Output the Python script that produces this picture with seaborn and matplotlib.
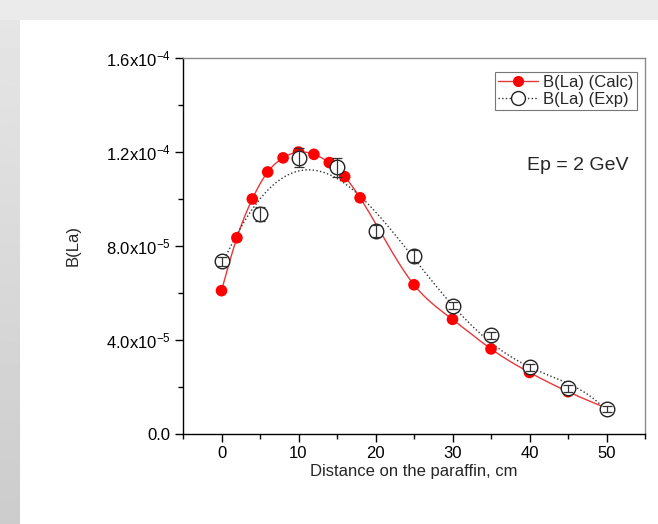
import numpy as np
import pandas as pd
import matplotlib
matplotlib.use("Agg")
import matplotlib.pyplot as plt
import seaborn as sns
from matplotlib.lines import Line2D
from matplotlib.patches import Rectangle
from matplotlib.ticker import MultipleLocator

# ---- data ----
calc_x = [0, 2, 4, 6, 8, 10, 12, 14, 16, 18, 25, 30, 35, 40, 45, 50]
calc_y = [6.1e-5, 8.35e-5, 1.00e-4, 1.115e-4, 1.175e-4, 1.20e-4, 1.19e-4,
          1.155e-4, 1.095e-4, 1.005e-4, 6.35e-5, 4.88e-5, 3.62e-5, 2.62e-5,
          1.80e-5, 1.10e-5]
exp_x = [0, 5, 10, 15, 20, 25, 30, 35, 40, 45, 50]
exp_y = [7.35e-5, 9.35e-5, 1.175e-4, 1.135e-4, 8.65e-5, 7.57e-5, 5.45e-5,
         4.2e-5, 2.83e-5, 1.95e-5, 1.07e-5]
exp_err = [2.0e-6, 3.0e-6, 4.0e-6, 4.0e-6, 2.5e-6, 2.5e-6, 1.5e-6,
           1.5e-6, 1.5e-6, 1.5e-6, 1.2e-6]
y_ticks = [0.0, 4e-5, 8e-5, 1.2e-4, 1.6e-4]
y_tick_labels = ['0.0', '4.0x10$^{-5}$', '8.0x10$^{-5}$',
                 '1.2x10$^{-4}$', '1.6x10$^{-4}$']
x_ticks = [0, 10, 20, 30, 40, 50]
label_calc = 'B(La) (Calc)'
label_exp = 'B(La) (Exp)'

sns.set_style("ticks")
plt.rcParams['font.family'] = ['Liberation Sans', 'DejaVu Sans']
plt.rcParams['mathtext.default'] = 'regular'


def natural_spline(x, y, n=400):
    x = np.asarray(x, float)
    y = np.asarray(y, float)
    k = len(x)
    h = np.diff(x)
    A = np.zeros((k, k))
    b = np.zeros(k)
    A[0, 0] = 1
    A[-1, -1] = 1
    for i in range(1, k - 1):
        A[i, i - 1] = h[i - 1]
        A[i, i] = 2 * (h[i - 1] + h[i])
        A[i, i + 1] = h[i]
        b[i] = 6 * ((y[i + 1] - y[i]) / h[i] - (y[i] - y[i - 1]) / h[i - 1])
    M = np.linalg.solve(A, b)
    xs = np.linspace(x[0], x[-1], n)
    idx = np.clip(np.searchsorted(x, xs) - 1, 0, k - 2)
    x0, x1 = x[idx], x[idx + 1]
    hh = x1 - x0
    t0 = x1 - xs
    t1 = xs - x0
    ys = (M[idx] * t0 ** 3 / (6 * hh) + M[idx + 1] * t1 ** 3 / (6 * hh)
          + (y[idx] / hh - M[idx] * hh / 6) * t0
          + (y[idx + 1] / hh - M[idx + 1] * hh / 6) * t1)
    return xs, ys


fig = plt.figure(figsize=(6.58, 5.24), dpi=100)
fig.patch.set_facecolor('#ebebeb')
# white page area
fig.add_artist(Rectangle((20 / 658, 0), 1 - 20 / 658, 1 - 20 / 524,
                         transform=fig.transFigure, facecolor='white',
                         edgecolor='none', zorder=0))
# left gradient strip
gax = fig.add_axes([0, 0, 20 / 658, 1 - 20 / 524])
grad = np.linspace(0.90, 0.80, 256).reshape(-1, 1)
gax.imshow(grad, cmap='gray', vmin=0, vmax=1, aspect='auto')
gax.axis('off')

ax = fig.add_axes([183 / 658, 1 - 434 / 524, (645 - 183) / 658, (434 - 58) / 524])
ax.set_facecolor('none')

# red interpolating curve
sx, sy = natural_spline(calc_x, calc_y)
sns.lineplot(x=sx, y=sy, ax=ax, color='#e8373a', lw=1.0, sort=False,
             estimator=None, zorder=2)
# dotted fitted curve for the experiment
sns.regplot(x=np.array(exp_x, float), y=np.array(exp_y, float), ax=ax,
            order=5, ci=None, scatter=False, truncate=True,
            line_kws=dict(color='#333333', ls=':', lw=1.0, zorder=2))

sns.scatterplot(x=calc_x, y=calc_y, ax=ax, color='#ff0000', s=70,
                edgecolor='none', zorder=3)
sns.scatterplot(x=exp_x, y=exp_y, ax=ax, facecolor='white', edgecolor='#222222',
                s=110, linewidth=1.0, zorder=4)
ax.errorbar(exp_x, exp_y, yerr=exp_err, fmt='none', ecolor='#333333',
            elinewidth=0.9, capsize=3.5, capthick=0.9, zorder=5)

ax.set_xlim(-5, 55)
ax.set_ylim(0, 1.6e-4)
ax.set_xticks(x_ticks)
ax.set_xticklabels([str(v) for v in x_ticks])
ax.xaxis.set_minor_locator(MultipleLocator(5))
ax.set_yticks(y_ticks)
ax.set_yticklabels(y_tick_labels)
ax.yaxis.set_minor_locator(MultipleLocator(2e-5))
ax.tick_params(axis='both', which='major', direction='out', length=6,
               width=1, labelsize=12, color='black', labelcolor='black', pad=3)
ax.tick_params(axis='both', which='minor', direction='out', length=3.5,
               width=1, color='black')

for s in ['left', 'bottom']:
    ax.spines[s].set_color('black')
    ax.spines[s].set_linewidth(1.0)
for s in ['top', 'right']:
    ax.spines[s].set_visible(True)
    ax.spines[s].set_color('#8a8a8a')
    ax.spines[s].set_linewidth(1.0)

ax.set_xlabel('Distance on the paraffin, cm', fontsize=12, labelpad=2)
ax.set_ylabel('B(La)', fontsize=12, labelpad=18)

ax.text(0.745, 0.715, 'Ep = 2 GeV', transform=ax.transAxes, fontsize=14,
        ha='left', va='center')

handles = [
    Line2D([], [], color='#e8373a', lw=1.0, marker='o', markersize=8,
           markerfacecolor='#ff0000', markeredgecolor='none'),
    Line2D([], [], color='#333333', lw=1.0, ls=':', marker='o', markersize=10,
           markerfacecolor='white', markeredgecolor='#222222'),
]
leg = ax.legend(handles, [label_calc, label_exp], loc='upper right',
                bbox_to_anchor=(0.983, 0.963), borderaxespad=0, fontsize=12,
                frameon=True, fancybox=False, handlelength=2.4,
                handletextpad=0.3, borderpad=0.2, labelspacing=0.1)
leg.get_frame().set_edgecolor('#555555')
leg.get_frame().set_linewidth(0.8)

fig.savefig('out.png', dpi=100, facecolor=fig.get_facecolor())
